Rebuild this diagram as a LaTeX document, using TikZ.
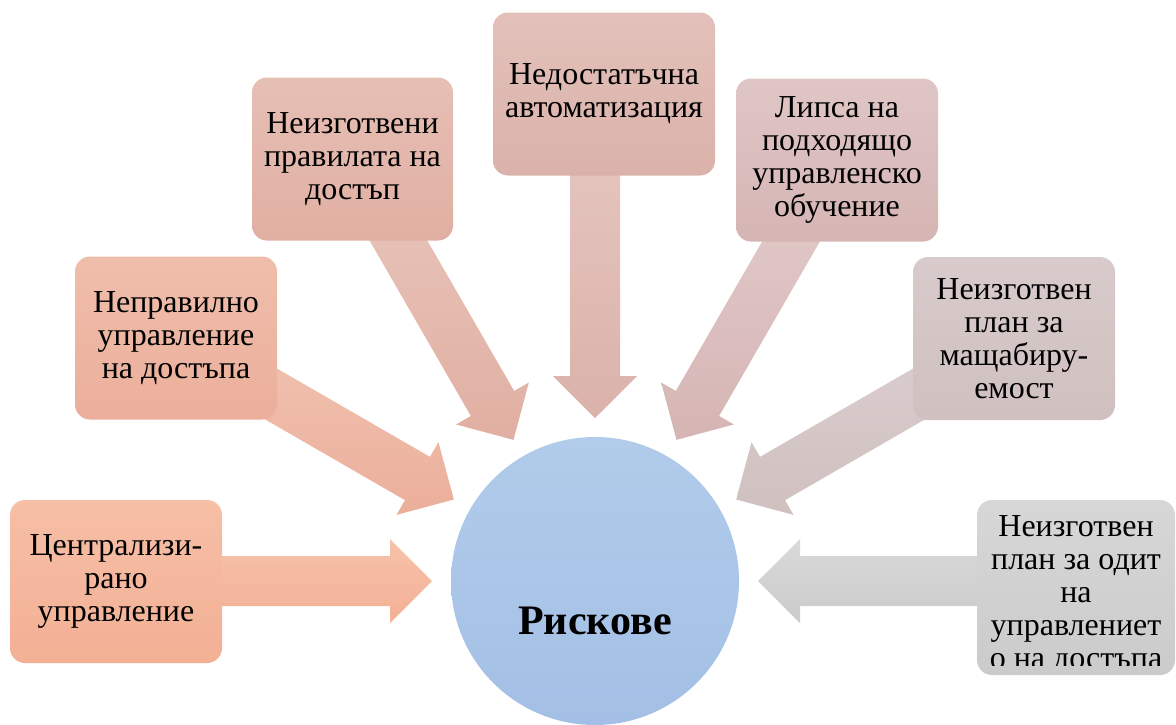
\documentclass[tikz,border=0pt]{standalone}
\usepackage{fontspec}
\setmainfont{Liberation Serif}
\usetikzlibrary{calc}

\definecolor{circtop}{HTML}{B1CCEA}
\definecolor{circbot}{HTML}{A3BFE5}
\definecolor{centtop}{HTML}{F6BFA6}
\definecolor{centbot}{HTML}{F3B095}
\definecolor{acctop}{HTML}{EFBEAB}
\definecolor{accbot}{HTML}{EBAF9B}
\definecolor{rulestop}{HTML}{E6BFB5}
\definecolor{rulesbot}{HTML}{E1AFA2}
\definecolor{autotop}{HTML}{E3C1BA}
\definecolor{autobot}{HTML}{DAB2AA}
\definecolor{traintop}{HTML}{DFC6C5}
\definecolor{trainbot}{HTML}{D5B5B4}
\definecolor{scaletop}{HTML}{D9CBCB}
\definecolor{scalebot}{HTML}{D0C0C0}
\definecolor{audittop}{HTML}{D7D7D7}
\definecolor{auditbot}{HTML}{CBCBCB}

\tikzset{
  box/.style={rounded corners=15pt, minimum width=202pt, minimum height=163pt,
    inner sep=0pt, align=center, font=\fontsize{32}{33}\selectfont},
}

\begin{document}
\begin{tikzpicture}[x=1pt,y=1pt]
\useasboundingbox (0,0) rectangle (1176,-724);

\node[circle, minimum size=288pt, inner sep=0pt, top color=circtop, bottom color=circbot] (c) at (595,-581) {};
\node[font=\fontsize{42}{48}\selectfont\bfseries] (risk) at (595,-621) {Рискове};

\foreach \a/\ct/\cb in {180/centtop/centbot, 150/acctop/accbot, 120/rulestop/rulesbot,
    90/autotop/autobot, 60/traintop/trainbot, 30/scaletop/scalebot, 0/audittop/auditbot}
  \path[top color=\ct!95!white, bottom color=\cb]
    ($(c)+(\a:163)$) -- ($(c)+(\a:205)+(\a+90:42)$) -- ($(c)+(\a:205)+(\a+90:25)$)
    -- ($(c)+(\a:420)+(\a+90:25)$) -- ($(c)+(\a:420)+(\a-90:25)$)
    -- ($(c)+(\a:205)+(\a-90:25)$) -- ($(c)+(\a:205)+(\a-90:42)$) -- cycle;

\node[box, minimum width=212pt, top color=centtop, bottom color=centbot] (cent) at (116,-581.5) {Централизи-\\рано\\управление};
\node[box, top color=acctop, bottom color=accbot] (acc) at (176,-338) {Неправилно\\управление\\на достъпа};
\node[box, minimum width=201pt, top color=rulestop, bottom color=rulesbot] (rules) at (352.5,-159) {Неизготвени\\правилата на\\достъп};
\node[box, minimum width=222pt, top color=autotop, bottom color=autobot] (auto) at (604,-94) {Недостатъчна\\автоматизация};
\node[box, top color=traintop, bottom color=trainbot] (train) at (837,-160) {Липса на\\подходящо\\управленско\\обучение};
\node[box, top color=scaletop, bottom color=scalebot] (scale) at (1014,-338.5) {Неизготвен\\план за\\мащабиру-\\емост};
\node[box, minimum width=198pt, minimum height=175pt, top color=audittop, bottom color=auditbot] (audit) at (1076,-587.5) {};
\begin{scope}
\clip (977,-500) rectangle (1175,-665);
\node[align=center, inner sep=0pt, font=\fontsize{32}{33}\selectfont] (audtext) at (1076,-595.5) {Неизготвен\\план за одит\\на\\управлениет\\о на достъпа};
\end{scope}
\end{tikzpicture}
\end{document}
